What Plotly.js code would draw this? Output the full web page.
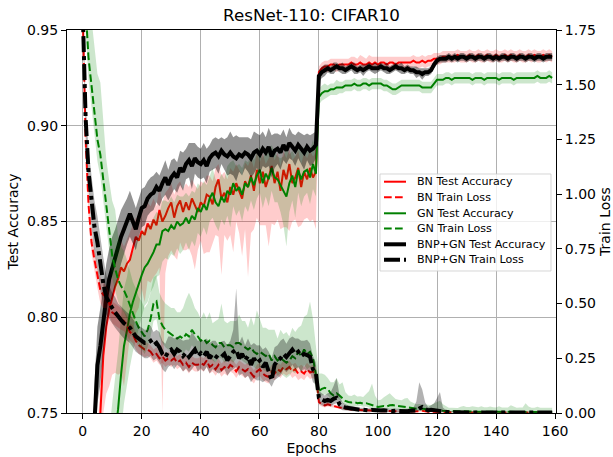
<!DOCTYPE html>
<html>
<head>
<meta charset="utf-8">
<script src="https://cdn.plot.ly/plotly-3.0.1.min.js"></script>
<style>html,body{margin:0;padding:0;background:#fff;}#chart{width:613px;height:457px;}</style>
</head>
<body>
<div id="chart"></div>
<script>
// ---------------- data ----------------
const epochs = Array.from({length: 160}, (_, i) => i);
const xTicks = [0, 20, 40, 60, 80, 100, 120, 140, 160];
const accTicks = [0.75, 0.80, 0.85, 0.90, 0.95];
const lossTicks = [0.00, 0.25, 0.50, 0.75, 1.00, 1.25, 1.50, 1.75];
const seriesNames = ['BN Test Accuracy','BN Train Loss','GN Test Accuracy','GN Train Loss','BNP+GN Test Accuracy','BNP+GN Train Loss'];

const bnAcc = [
0.35,0.50,0.60,0.66,0.70,0.73,0.750,0.780,0.795,0.804,
0.810,0.816,0.820,0.826,0.824,0.828,0.830,0.836,0.842,0.840,
0.845,0.843,0.849,0.846,0.851,0.848,0.856,0.850,0.853,0.857,
0.860,0.852,0.858,0.861,0.855,0.860,0.856,0.862,0.858,0.855,
0.860,0.858,0.864,0.863,0.859,0.868,0.872,0.862,0.865,0.860,
0.868,0.864,0.870,0.866,0.862,0.871,0.868,0.874,0.866,0.877,
0.870,0.876,0.868,0.873,0.879,0.870,0.876,0.866,0.877,0.872,
0.880,0.870,0.873,0.878,0.868,0.876,0.872,0.878,0.873,0.876,
0.928,0.930,0.931,0.931,0.932,0.932,0.931,0.932,0.932,0.932,
0.932,0.933,0.932,0.932,0.933,0.932,0.932,0.933,0.932,0.933,
0.932,0.933,0.933,0.932,0.933,0.933,0.932,0.933,0.933,0.933,
0.933,0.933,0.934,0.933,0.933,0.934,0.933,0.934,0.934,0.935,
0.935,0.935,0.936,0.936,0.936,0.936,0.936,0.937,0.936,0.936,
0.936,0.937,0.936,0.936,0.937,0.936,0.936,0.937,0.936,0.936,
0.937,0.936,0.936,0.937,0.936,0.937,0.936,0.936,0.937,0.936,
0.936,0.937,0.936,0.937,0.936,0.936,0.937,0.936,0.937,0.936];
const bnAccUp = [
0,0,0,0,0,0.010,0.015,0.015,0.015,0.015,
0.015,0.015,0.014,0.014,0.013,0.013,0.014,0.012,0.010,0.012,
0.012,0.013,0.011,0.012,0.011,0.010,0.012,0.010,0.012,0.010,
0.010,0.012,0.011,0.010,0.012,0.010,0.012,0.010,0.011,0.012,
0.011,0.012,0.010,0.011,0.012,0.010,0.008,0.012,0.011,0.012,
0.010,0.012,0.010,0.011,0.012,0.010,0.011,0.009,0.012,0.009,
0.011,0.010,0.012,0.010,0.008,0.012,0.010,0.013,0.010,0.011,
0.008,0.012,0.011,0.009,0.012,0.010,0.011,0.009,0.011,0.010,
0.003,0.003,0.003,0.003,0.003,0.003,0.004,0.003,0.003,0.003,
0.003,0.003,0.004,0.003,0.004,0.004,0.003,0.004,0.004,0.003,
0.004,0.003,0.003,0.004,0.003,0.003,0.004,0.003,0.003,0.003,
0.003,0.003,0.003,0.003,0.003,0.003,0.003,0.003,0.003,0.003,
0.003,0.003,0.003,0.003,0.003,0.003,0.003,0.003,0.003,0.003,
0.003,0.003,0.003,0.003,0.003,0.003,0.003,0.003,0.003,0.003,
0.003,0.003,0.003,0.003,0.003,0.003,0.003,0.003,0.003,0.003,
0.003,0.003,0.003,0.003,0.003,0.003,0.003,0.003,0.003,0.003];
const bnAccDn = [
0,0,0,0,0,0.020,0.030,0.030,0.035,0.040,
0.040,0.045,0.050,0.055,0.060,0.050,0.040,0.045,0.040,0.035,
0.030,0.035,0.030,0.028,0.030,0.025,0.030,0.100,0.030,0.025,
0.025,0.020,0.028,0.022,0.020,0.025,0.020,0.030,0.033,0.020,
0.020,0.025,0.030,0.029,0.020,0.025,0.030,0.040,0.022,0.020,
0.025,0.030,0.020,0.022,0.030,0.025,0.047,0.030,0.020,0.025,
0.022,0.028,0.020,0.036,0.030,0.022,0.025,0.020,0.030,0.025,
0.035,0.020,0.022,0.031,0.020,0.025,0.020,0.028,0.022,0.030,
0.003,0.003,0.003,0.003,0.003,0.003,0.003,0.003,0.003,0.003,
0.003,0.003,0.003,0.003,0.003,0.003,0.003,0.003,0.003,0.003,
0.003,0.003,0.003,0.003,0.003,0.003,0.003,0.003,0.003,0.003,
0.003,0.003,0.003,0.003,0.003,0.003,0.003,0.003,0.003,0.003,
0.003,0.003,0.003,0.003,0.003,0.003,0.003,0.003,0.003,0.003,
0.003,0.003,0.003,0.003,0.003,0.003,0.003,0.003,0.003,0.003,
0.003,0.003,0.003,0.003,0.003,0.003,0.003,0.003,0.003,0.003,
0.003,0.003,0.003,0.003,0.003,0.003,0.003,0.003,0.003,0.003];

const gnAcc = [
0.20,0.30,0.40,0.48,0.54,0.59,0.63,0.66,0.69,0.71,
0.725,0.738,0.752,0.770,0.785,0.793,0.802,0.808,0.813,0.818,
0.822,0.826,0.828,0.831,0.834,0.838,0.838,0.845,0.846,0.845,
0.848,0.846,0.850,0.848,0.849,0.852,0.849,0.853,0.851,0.857,
0.855,0.859,0.856,0.862,0.865,0.860,0.858,0.863,0.860,0.866,
0.864,0.870,0.866,0.868,0.864,0.870,0.868,0.873,0.869,0.874,
0.877,0.870,0.875,0.872,0.878,0.873,0.872,0.869,0.866,0.863,
0.870,0.874,0.868,0.877,0.872,0.876,0.877,0.873,0.880,0.875,
0.915,0.917,0.918,0.918,0.919,0.919,0.920,0.920,0.920,0.921,
0.921,0.921,0.922,0.921,0.921,0.922,0.922,0.921,0.922,0.922,
0.922,0.922,0.921,0.921,0.920,0.919,0.919,0.920,0.921,0.921,
0.921,0.921,0.921,0.921,0.921,0.920,0.920,0.920,0.920,0.922,
0.924,0.924,0.924,0.925,0.925,0.924,0.925,0.925,0.925,0.925,
0.925,0.925,0.924,0.925,0.925,0.925,0.924,0.925,0.925,0.925,
0.925,0.924,0.925,0.925,0.925,0.925,0.924,0.925,0.925,0.925,
0.925,0.925,0.925,0.925,0.926,0.925,0.925,0.925,0.926,0.925];
const gnAccSd = [
0,0,0,0,0,0,0,0.030,0.030,0.030,
0.030,0.030,0.030,0.030,0.030,0.028,0.028,0.026,0.025,0.024,
0.022,0.020,0.020,0.018,0.018,0.017,0.016,0.016,0.015,0.015,
0.015,0.014,0.014,0.015,0.014,0.013,0.014,0.013,0.014,0.013,
0.013,0.012,0.013,0.012,0.013,0.012,0.013,0.012,0.012,0.013,
0.017,0.012,0.013,0.012,0.014,0.012,0.013,0.012,0.013,0.012,
0.012,0.013,0.012,0.014,0.012,0.013,0.012,0.014,0.018,0.026,
0.015,0.013,0.016,0.012,0.014,0.013,0.012,0.014,0.013,0.012,
0.004,0.004,0.004,0.003,0.003,0.003,0.004,0.003,0.003,0.003,
0.003,0.003,0.003,0.003,0.003,0.003,0.003,0.003,0.003,0.003,
0.003,0.003,0.003,0.003,0.003,0.003,0.003,0.003,0.003,0.003,
0.003,0.003,0.003,0.003,0.003,0.003,0.003,0.003,0.003,0.003,
0.003,0.003,0.003,0.003,0.003,0.003,0.003,0.003,0.003,0.003,
0.003,0.003,0.003,0.003,0.003,0.003,0.003,0.003,0.003,0.003,
0.003,0.003,0.003,0.003,0.003,0.003,0.003,0.003,0.003,0.003,
0.003,0.003,0.003,0.003,0.003,0.003,0.003,0.003,0.003,0.003];

const bnpAcc = [
0.40,0.55,0.63,0.68,0.745,0.775,0.785,0.800,0.810,0.820,
0.826,0.831,0.836,0.842,0.846,0.850,0.854,0.850,0.846,0.852,
0.857,0.858,0.862,0.864,0.865,0.868,0.866,0.870,0.873,0.869,
0.873,0.875,0.873,0.878,0.876,0.880,0.882,0.879,0.883,0.881,
0.880,0.882,0.879,0.883,0.885,0.886,0.884,0.887,0.885,0.884,
0.886,0.884,0.883,0.885,0.884,0.886,0.885,0.883,0.886,0.887,
0.885,0.888,0.886,0.889,0.884,0.887,0.888,0.886,0.890,0.887,
0.891,0.889,0.887,0.890,0.888,0.886,0.889,0.887,0.888,0.890,
0.926,0.928,0.929,0.930,0.929,0.930,0.931,0.930,0.930,0.929,
0.930,0.931,0.930,0.929,0.930,0.929,0.930,0.931,0.930,0.930,
0.930,0.931,0.930,0.930,0.929,0.930,0.931,0.930,0.930,0.929,
0.930,0.929,0.929,0.928,0.928,0.927,0.928,0.928,0.929,0.932,
0.934,0.935,0.935,0.935,0.936,0.935,0.936,0.935,0.936,0.936,
0.935,0.936,0.936,0.935,0.936,0.936,0.935,0.936,0.936,0.935,
0.936,0.935,0.936,0.936,0.935,0.936,0.936,0.935,0.936,0.936,
0.935,0.936,0.936,0.935,0.936,0.936,0.935,0.936,0.936,0.936];
const bnpAccSd = [
0,0,0,0,0.020,0.020,0.020,0.018,0.018,0.016,
0.016,0.015,0.015,0.014,0.013,0.012,0.012,0.011,0.011,0.010,
0.010,0.010,0.009,0.009,0.009,0.008,0.008,0.008,0.009,0.008,
0.009,0.008,0.008,0.009,0.010,0.008,0.009,0.012,0.008,0.008,
0.008,0.009,0.009,0.007,0.008,0.008,0.009,0.007,0.008,0.010,
0.011,0.010,0.012,0.009,0.010,0.008,0.009,0.010,0.011,0.009,
0.010,0.009,0.008,0.010,0.011,0.009,0.008,0.009,0.008,0.007,
0.008,0.007,0.008,0.007,0.008,0.009,0.007,0.008,0.008,0.007,
0.003,0.003,0.003,0.002,0.002,0.003,0.002,0.002,0.003,0.002,
0.002,0.002,0.003,0.002,0.002,0.003,0.002,0.002,0.002,0.003,
0.002,0.002,0.002,0.003,0.002,0.002,0.002,0.002,0.003,0.002,
0.002,0.002,0.002,0.003,0.002,0.003,0.002,0.002,0.002,0.002,
0.002,0.002,0.002,0.002,0.002,0.002,0.002,0.002,0.002,0.002,
0.002,0.002,0.002,0.002,0.002,0.002,0.002,0.002,0.002,0.002,
0.002,0.002,0.002,0.002,0.002,0.002,0.002,0.002,0.002,0.002,
0.002,0.002,0.002,0.002,0.002,0.002,0.002,0.002,0.002,0.002];

const bnLoss = [
1.85,1.25,0.95,0.78,0.70,0.62,0.56,0.54,0.53,0.50,
0.46,0.45,0.44,0.43,0.42,0.40,0.37,0.36,0.33,0.31,
0.30,0.29,0.29,0.28,0.26,0.27,0.25,0.26,0.24,0.25,
0.24,0.25,0.23,0.24,0.22,0.23,0.21,0.23,0.22,0.22,
0.228,0.22,0.24,0.21,0.22,0.20,0.22,0.196,0.21,0.20,
0.22,0.21,0.19,0.21,0.20,0.19,0.20,0.18,0.165,0.19,
0.20,0.18,0.17,0.165,0.19,0.18,0.20,0.19,0.21,0.20,
0.21,0.19,0.20,0.18,0.19,0.18,0.20,0.185,0.19,0.18,
0.050,0.040,0.035,0.040,0.035,0.030,0.028,0.025,0.022,0.020,
0.018,0.016,0.015,0.014,0.013,0.012,0.011,0.011,0.010,0.010,
0.009,0.009,0.008,0.009,0.008,0.008,0.007,0.008,0.007,0.007,
0.007,0.006,0.007,0.006,0.008,0.010,0.007,0.006,0.006,0.005,
0.005,0.004,0.004,0.004,0.003,0.003,0.003,0.003,0.003,0.003,
0.003,0.003,0.002,0.003,0.002,0.002,0.003,0.002,0.002,0.002,
0.002,0.002,0.002,0.002,0.002,0.002,0.002,0.002,0.002,0.002,
0.002,0.002,0.002,0.002,0.002,0.002,0.002,0.002,0.002,0.002];
const bnLossSd = [
0.05,0.05,0.05,0.05,0.05,0.05,0.06,0.06,0.05,0.05,
0.05,0.05,0.05,0.05,0.045,0.045,0.04,0.04,0.04,0.04,
0.035,0.035,0.03,0.03,0.03,0.03,0.03,0.03,0.03,0.03,
0.03,0.03,0.03,0.03,0.03,0.03,0.03,0.03,0.03,0.03,
0.03,0.03,0.03,0.03,0.03,0.03,0.03,0.03,0.03,0.03,
0.03,0.03,0.03,0.03,0.03,0.03,0.03,0.03,0.03,0.03,
0.03,0.03,0.03,0.03,0.03,0.03,0.03,0.03,0.03,0.03,
0.03,0.03,0.03,0.03,0.03,0.03,0.03,0.03,0.03,0.03,
0.012,0.01,0.01,0.01,0.008,0.008,0.008,0.007,0.006,0.006,
0.005,0.005,0.005,0.004,0.004,0.004,0.004,0.004,0.004,0.004,
0.003,0.003,0.003,0.003,0.003,0.003,0.003,0.003,0.003,0.003,
0.003,0.003,0.003,0.003,0.003,0.003,0.003,0.003,0.003,0.003,
0.002,0.002,0.002,0.002,0.002,0.002,0.002,0.002,0.002,0.002,
0.002,0.002,0.002,0.002,0.002,0.002,0.002,0.002,0.002,0.002,
0.002,0.002,0.002,0.002,0.002,0.002,0.002,0.002,0.002,0.002,
0.002,0.002,0.002,0.002,0.002,0.002,0.002,0.002,0.002,0.002];

const gnLoss = [
2.20,1.85,1.62,1.50,1.38,1.25,1.18,1.06,0.96,0.84,
0.72,0.66,0.61,0.58,0.56,0.53,0.49,0.45,0.42,0.39,
0.37,0.35,0.38,0.43,0.50,0.51,0.43,0.40,0.38,0.37,
0.36,0.35,0.34,0.35,0.34,0.36,0.35,0.38,0.36,0.35,
0.33,0.34,0.32,0.33,0.31,0.30,0.32,0.32,0.30,0.31,
0.31,0.30,0.32,0.32,0.31,0.30,0.29,0.30,0.28,0.27,
0.28,0.27,0.26,0.27,0.24,0.26,0.24,0.25,0.24,0.23,
0.24,0.26,0.25,0.28,0.26,0.29,0.27,0.28,0.25,0.17,
0.100,0.110,0.115,0.110,0.090,0.080,0.090,0.080,0.065,0.055,
0.050,0.048,0.050,0.045,0.047,0.043,0.045,0.040,0.035,0.030,
0.028,0.030,0.032,0.030,0.035,0.036,0.034,0.030,0.028,0.026,
0.024,0.023,0.022,0.020,0.021,0.019,0.018,0.017,0.016,0.015,
0.012,0.011,0.010,0.010,0.009,0.009,0.008,0.008,0.008,0.007,
0.007,0.007,0.006,0.007,0.006,0.006,0.006,0.006,0.005,0.006,
0.005,0.006,0.005,0.005,0.005,0.005,0.005,0.004,0.005,0.005,
0.004,0.005,0.004,0.004,0.004,0.004,0.004,0.004,0.004,0.004];
const gnLossUp = [
0.15,0.20,0.25,0.30,0.30,0.30,0.33,0.25,0.20,0.22,
0.25,0.27,0.20,0.18,0.18,0.17,0.16,0.15,0.15,0.14,
0.14,0.13,0.12,0.12,0.12,0.12,0.12,0.12,0.12,0.12,
0.12,0.13,0.12,0.11,0.14,0.16,0.20,0.14,0.12,0.11,
0.10,0.12,0.11,0.13,0.10,0.12,0.11,0.18,0.12,0.10,
0.11,0.12,0.10,0.13,0.11,0.12,0.10,0.14,0.12,0.20,
0.15,0.12,0.13,0.11,0.14,0.12,0.10,0.13,0.12,0.14,
0.11,0.13,0.12,0.11,0.14,0.15,0.18,0.23,0.18,0.12,
0.080,0.070,0.060,0.050,0.050,0.060,0.070,0.050,0.075,0.040,
0.030,0.030,0.035,0.030,0.030,0.030,0.040,0.060,0.100,0.050,
0.030,0.030,0.040,0.050,0.055,0.040,0.030,0.030,0.030,0.040,
0.045,0.030,0.025,0.020,0.020,0.020,0.020,0.020,0.020,0.030,
0.040,0.045,0.030,0.020,0.015,0.015,0.015,0.015,0.020,0.025,
0.020,0.020,0.025,0.020,0.020,0.025,0.020,0.020,0.025,0.020,
0.020,0.025,0.020,0.020,0.020,0.030,0.025,0.020,0.020,0.020,
0.040,0.025,0.020,0.020,0.025,0.020,0.020,0.020,0.020,0.020];
const gnLossDn = [
0.10,0.10,0.10,0.10,0.10,0.10,0.10,0.10,0.10,0.10,
0.10,0.10,0.10,0.10,0.10,0.10,0.10,0.09,0.09,0.09,
0.08,0.08,0.08,0.08,0.08,0.08,0.08,0.08,0.08,0.08,
0.07,0.07,0.07,0.07,0.07,0.07,0.07,0.07,0.07,0.07,
0.07,0.07,0.07,0.07,0.07,0.07,0.07,0.07,0.07,0.07,
0.07,0.07,0.07,0.07,0.07,0.07,0.07,0.07,0.07,0.07,
0.07,0.07,0.07,0.07,0.07,0.07,0.07,0.07,0.07,0.07,
0.07,0.07,0.07,0.07,0.07,0.07,0.07,0.07,0.07,0.07,
0.03,0.03,0.03,0.03,0.025,0.025,0.025,0.02,0.02,0.02,
0.02,0.02,0.02,0.015,0.015,0.015,0.015,0.015,0.015,0.015,
0.015,0.015,0.015,0.015,0.015,0.015,0.015,0.015,0.015,0.015,
0.01,0.01,0.01,0.01,0.01,0.01,0.01,0.01,0.01,0.01,
0.008,0.008,0.008,0.008,0.008,0.008,0.008,0.008,0.008,0.008,
0.006,0.006,0.006,0.006,0.006,0.006,0.006,0.006,0.006,0.006,
0.005,0.005,0.005,0.005,0.005,0.005,0.005,0.005,0.005,0.005,
0.004,0.004,0.004,0.004,0.004,0.004,0.004,0.004,0.004,0.004];

const bnpLoss = [
1.85,1.35,1.10,0.95,0.85,0.78,0.68,0.59,0.53,0.50,
0.48,0.46,0.44,0.425,0.41,0.40,0.39,0.37,0.35,0.34,
0.33,0.32,0.32,0.33,0.31,0.32,0.30,0.27,0.256,0.28,
0.29,0.27,0.29,0.28,0.26,0.275,0.256,0.27,0.29,0.26,
0.274,0.26,0.28,0.25,0.27,0.26,0.25,0.257,0.27,0.24,
0.26,0.28,0.29,0.25,0.27,0.24,0.26,0.22,0.25,0.228,
0.24,0.21,0.23,0.19,0.15,0.22,0.24,0.25,0.27,0.256,
0.27,0.29,0.27,0.28,0.26,0.27,0.265,0.257,0.20,0.18,
0.070,0.060,0.055,0.060,0.055,0.065,0.070,0.040,0.028,0.025,
0.022,0.020,0.018,0.016,0.014,0.015,0.013,0.012,0.014,0.012,
0.012,0.011,0.012,0.010,0.011,0.009,0.010,0.009,0.008,0.009,
0.008,0.010,0.009,0.012,0.020,0.027,0.018,0.012,0.015,0.013,
0.008,0.006,0.005,0.004,0.004,0.003,0.003,0.003,0.003,0.003,
0.003,0.003,0.003,0.002,0.003,0.002,0.002,0.003,0.002,0.002,
0.002,0.002,0.002,0.002,0.002,0.002,0.002,0.002,0.002,0.002,
0.002,0.002,0.002,0.002,0.002,0.002,0.002,0.002,0.002,0.002];
const bnpLossUp = [
0.08,0.08,0.10,0.12,0.12,0.12,0.12,0.12,0.10,0.08,
0.07,0.07,0.06,0.06,0.06,0.06,0.06,0.06,0.06,0.06,
0.06,0.06,0.06,0.07,0.06,0.06,0.07,0.06,0.06,0.07,
0.06,0.07,0.06,0.06,0.07,0.06,0.08,0.10,0.06,0.07,
0.06,0.07,0.06,0.07,0.06,0.07,0.06,0.07,0.06,0.07,
0.07,0.10,0.28,0.07,0.08,0.07,0.08,0.09,0.07,0.08,
0.07,0.08,0.07,0.09,0.10,0.08,0.07,0.08,0.07,0.06,
0.07,0.06,0.07,0.06,0.07,0.06,0.07,0.06,0.06,0.05,
0.030,0.030,0.025,0.030,0.040,0.060,0.090,0.040,0.020,0.015,
0.012,0.012,0.010,0.010,0.010,0.010,0.010,0.010,0.010,0.010,
0.010,0.010,0.010,0.010,0.010,0.010,0.010,0.010,0.010,0.010,
0.010,0.010,0.015,0.040,0.120,0.080,0.030,0.015,0.020,0.030,
0.060,0.090,0.020,0.010,0.006,0.005,0.005,0.005,0.005,0.005,
0.004,0.004,0.004,0.004,0.004,0.004,0.004,0.004,0.004,0.004,
0.004,0.004,0.004,0.004,0.004,0.004,0.004,0.004,0.004,0.004,
0.004,0.004,0.004,0.004,0.004,0.004,0.004,0.004,0.004,0.004];
const bnpLossDn = [
0.06,0.06,0.08,0.10,0.12,0.12,0.12,0.10,0.08,0.07,
0.07,0.07,0.07,0.07,0.07,0.07,0.07,0.07,0.07,0.07,
0.07,0.07,0.07,0.07,0.07,0.07,0.07,0.07,0.07,0.07,
0.07,0.07,0.07,0.07,0.07,0.07,0.07,0.07,0.07,0.07,
0.07,0.07,0.07,0.07,0.07,0.07,0.07,0.07,0.07,0.07,
0.07,0.08,0.08,0.08,0.09,0.08,0.09,0.08,0.09,0.08,
0.09,0.07,0.08,0.05,0.03,0.07,0.08,0.08,0.07,0.07,
0.07,0.07,0.07,0.07,0.07,0.07,0.07,0.07,0.06,0.05,
0.025,0.025,0.025,0.025,0.025,0.025,0.025,0.02,0.015,0.015,
0.012,0.012,0.01,0.01,0.01,0.01,0.01,0.01,0.01,0.01,
0.008,0.008,0.008,0.008,0.008,0.008,0.008,0.008,0.008,0.008,
0.008,0.008,0.008,0.008,0.008,0.008,0.008,0.008,0.008,0.008,
0.005,0.004,0.004,0.003,0.003,0.003,0.003,0.003,0.003,0.003,
0.003,0.003,0.003,0.002,0.002,0.002,0.002,0.002,0.002,0.002,
0.002,0.002,0.002,0.002,0.002,0.002,0.002,0.002,0.002,0.002,
0.002,0.002,0.002,0.002,0.002,0.002,0.002,0.002,0.002,0.002];

// ---------------- build traces ----------------
function band(mean, up, dn, yaxis, fillcolor) {
  const hi = mean.map((v, i) => v + up[i]);
  const lo = mean.map((v, i) => v - dn[i]);
  return {
    x: epochs.concat(epochs.slice().reverse()),
    y: hi.concat(lo.slice().reverse()),
    yaxis: yaxis, type: 'scatter', mode: 'lines',
    fill: 'toself', fillcolor: fillcolor,
    line: {width: 0, color: 'rgba(0,0,0,0)'},
    showlegend: false, hoverinfo: 'skip'
  };
}
const RED = '#ff0000', GREEN = '#008000', BLACK = '#000000';
const DASH = '7.7px,3.3px', DASHDOT = '16px,4px,4px,4px';
const styles = [
  {color: RED, width: 2, dash: 'solid'},
  {color: RED, width: 2, dash: DASH},
  {color: GREEN, width: 2, dash: 'solid'},
  {color: GREEN, width: 2, dash: DASH},
  {color: BLACK, width: 4, dash: 'solid'},
  {color: BLACK, width: 4, dash: DASHDOT}
];
function line(k, y, yaxis) {
  return {x: epochs, y: y, name: seriesNames[k], yaxis: yaxis, type: 'scatter', mode: 'lines',
          line: styles[k], showlegend: false};
}
const pink = 'rgba(255,0,0,0.2)', lgreen = 'rgba(0,128,0,0.2)';
const greyAcc = 'rgba(0,0,0,0.42)', greyLoss = 'rgba(0,0,0,0.3)';

const traces = [
  band(bnAcc, bnAccUp, bnAccDn, 'y', pink),
  line(0, bnAcc, 'y'),
  band(gnAcc, gnAccSd, gnAccSd, 'y', lgreen),
  line(2, gnAcc, 'y'),
  band(bnpAcc, bnpAccSd, bnpAccSd, 'y', greyAcc),
  line(4, bnpAcc, 'y'),
  band(bnLoss, bnLossSd, bnLossSd, 'y2', pink),
  line(1, bnLoss, 'y2'),
  band(gnLoss, gnLossUp, gnLossDn, 'y2', lgreen),
  line(3, gnLoss, 'y2'),
  band(bnpLoss, bnpLossUp, bnpLossDn, 'y2', greyLoss),
  line(5, bnpLoss, 'y2')
];

// ---------------- legend (matplotlib-style box, drawn with shapes + annotations) ----------------
const PL = 67, PR = 556, PT = 30, PB = 413;
const px2x = p => (p - PL) / (PR - PL);
const px2y = p => (PB - p) / (PB - PT);
const FONT = 'DejaVu Sans, sans-serif';
const shapes = [{
  type: 'rect', xref: 'paper', yref: 'paper', layer: 'above',
  x0: px2x(380), x1: px2x(551), y0: px2y(271), y1: px2y(174),
  fillcolor: 'rgba(255,255,255,0.8)', line: {color: 'rgba(204,204,204,0.8)', width: 1}
}];
const annotations = [];
const rowY = [181.7, 197.3, 213.3, 228.5, 244.3, 259.7];
seriesNames.forEach((nm, k) => {
  shapes.push({type: 'line', xref: 'paper', yref: 'paper', layer: 'above',
    x0: px2x(384), x1: px2x(406), y0: px2y(rowY[k]), y1: px2y(rowY[k]),
    line: {color: styles[k].color, width: styles[k].width, dash: styles[k].dash}});
  annotations.push({xref: 'paper', yref: 'paper', x: px2x(414.5), y: px2y(rowY[k]),
    xanchor: 'left', yanchor: 'middle', text: nm, showarrow: false,
    font: {family: FONT, size: 11.1, color: '#000'}});
});

const axisCommon = {
  showline: true, linecolor: '#000', linewidth: 1,
  ticks: 'outside', ticklen: 5, tickwidth: 1, tickcolor: '#000',
  zeroline: false, tickfont: {family: FONT, size: 14, color: '#000'}
};
const layout = {
  width: 613, height: 457,
  margin: {l: PL, r: 613 - PR, t: PT, b: 457 - PB, pad: 0},
  paper_bgcolor: '#fff', plot_bgcolor: '#fff',
  font: {family: FONT, color: '#000'},
  title: {text: 'ResNet-110: CIFAR10', font: {family: FONT, size: 16.7, color: '#000'},
          x: 0.5, xref: 'paper', xanchor: 'center', y: 1 - 15/457, yref: 'container', yanchor: 'middle'},
  xaxis: Object.assign({}, axisCommon, {
    range: [-5.3, 160.3], tickvals: xTicks, mirror: true,
    showgrid: true, gridcolor: '#b0b0b0', gridwidth: 1,
    title: {text: 'Epochs', font: {family: FONT, size: 14, color: '#000'}, standoff: 5}
  }),
  yaxis: Object.assign({}, axisCommon, {
    range: [0.75, 0.95], tickvals: accTicks, tickformat: '.2f',
    showgrid: true, gridcolor: '#b0b0b0', gridwidth: 1,
    title: {text: 'Test Accuracy', font: {family: FONT, size: 14, color: '#000'}, standoff: 5}
  }),
  yaxis2: Object.assign({}, axisCommon, {
    overlaying: 'y', side: 'right', range: [0, 1.75], tickvals: lossTicks, tickformat: '.2f',
    showgrid: false,
    title: {text: 'Train Loss', font: {family: FONT, size: 14, color: '#000'}, standoff: 9}
  }),
  showlegend: false,
  shapes: shapes,
  annotations: annotations
};
Plotly.newPlot('chart', traces, layout, {staticPlot: true, displayModeBar: false});
</script>
</body>
</html>
